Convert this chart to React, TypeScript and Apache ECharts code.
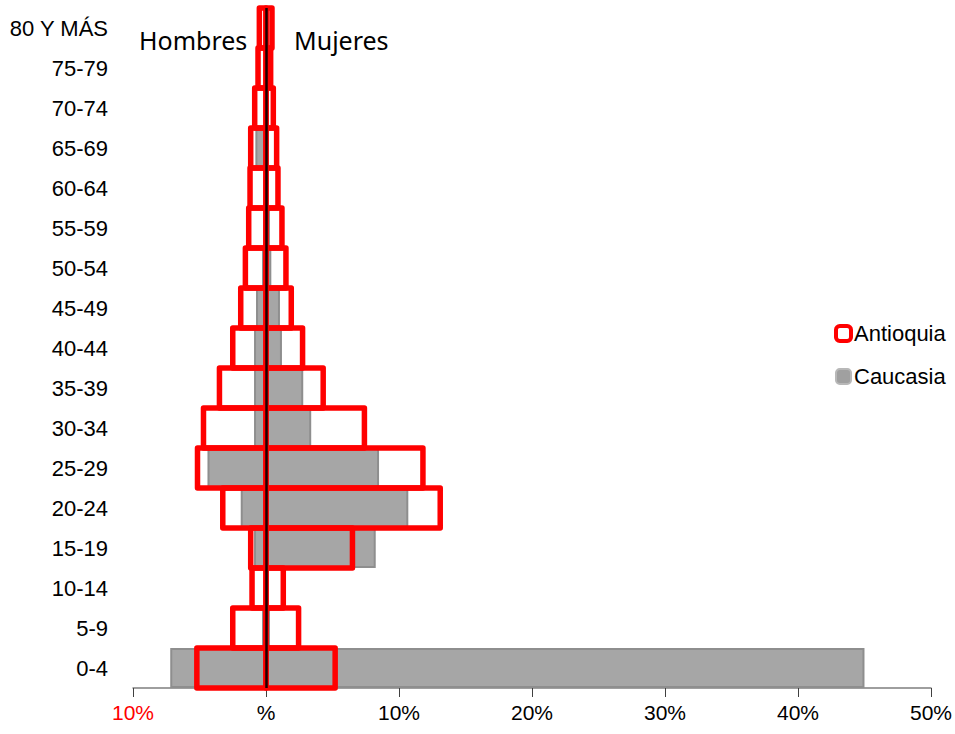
import React, { useEffect, useRef } from "react";
import * as echarts from "echarts";

const categories = ["0-4", "5-9", "10-14", "15-19", "20-24", "25-29", "30-34", "35-39", "40-44", "45-49", "50-54", "55-59", "60-64", "65-69", "70-74", "75-79", "80 Y MÁS"];
const antioquiaHombres = [5.2, 2.5, 1.05, 1.15, 3.25, 5.15, 4.7, 3.5, 2.5, 1.9, 1.55, 1.3, 1.2, 1.15, 0.85, 0.6, 0.5];
const antioquiaMujeres = [5.2, 2.45, 1.3, 6.5, 13.1, 11.8, 7.4, 4.3, 2.75, 1.9, 1.5, 1.2, 0.9, 0.8, 0.55, 0.35, 0.45];
const caucasiaHombres = [7.2, 0.3, 0.1, 0.9, 1.9, 4.4, 0.9, 0.9, 0.9, 0.75, 0.3, 0.2, 0.2, 0.8, 0.15, 0.1, 0.1];
const caucasiaMujeres = [45.0, 0.3, 0.2, 8.25, 10.7, 8.5, 3.4, 2.8, 1.2, 1.05, 0.4, 0.3, 0.15, 0.2, 0.2, 0.1, 0.1];
const xTicks = { min: -10, max: 50, interval: 10 };

export default function App() {
  const ref = useRef<HTMLDivElement>(null);
  useEffect(() => {
    if (!ref.current) return;
    const chart = echarts.init(ref.current, null, { renderer: "svg" });
    const grayStyle = { color: "#a6a6a6", borderColor: "#8e8e8e", borderWidth: 2 };
    const redItem = { color: "rgba(255,255,255,0)", borderColor: "#ff0000", borderWidth: 4 };
    const renderRed = (params: any, api: any) => {
      const v = api.value(0);
      const c = api.value(1);
      const p0 = api.coord([0, c]);
      const p1 = api.coord([v, c]);
      const h = api.size([0, 1])[1];
      return {
        type: "rect",
        shape: { x: Math.min(p0[0], p1[0]), y: p0[1] - h / 2, width: Math.abs(p1[0] - p0[0]), height: h },
        style: { fill: "none", stroke: "#ff0000", lineWidth: 5.5, lineJoin: "round" },
      };
    };
    chart.setOption({
      animation: false,
      grid: { left: 133, right: 24, top: 8, bottom: 46 },
      legend: {
        orient: "vertical",
        left: 829,
        top: 317,
        itemWidth: 15,
        itemHeight: 15,
        itemGap: 20,
        textStyle: { fontFamily: "Liberation Sans", fontSize: 22, color: "#000", lineHeight: 23, padding: [0, 0, 0, -2] },
        data: [
          { name: "Antioquia", itemStyle: { borderWidth: 4, borderColor: "#ff0000", color: "#fff" } },
          { name: "Caucasia", itemStyle: { borderWidth: 2, borderColor: "#b8b8b8", color: "#a0a0a0" } },
        ],
      },
      xAxis: {
        type: "value",
        min: xTicks.min,
        max: xTicks.max,
        interval: xTicks.interval,
        splitLine: { show: false },
        axisLine: { show: true, lineStyle: { color: "#7f7f7f", width: 1.5 } },
        axisTick: { show: true, length: 9, lineStyle: { color: "#404040" } },
        axisLabel: {
          margin: 14,
          fontFamily: "Liberation Sans",
          fontSize: 21,
          color: "#000",
          formatter: (v: number) => (v < 0 ? "{r|" + Math.abs(v) + "%}" : v === 0 ? "%" : v + "%"),
          rich: { r: { color: "#ff0000", fontFamily: "Liberation Sans", fontSize: 21 } },
        },
      },
      yAxis: {
        type: "category",
        data: categories,
        axisLine: { show: false },
        axisTick: { show: false },
        axisLabel: { margin: 25, fontFamily: "Liberation Sans", fontSize: 22, color: "#000" },
      },
      graphic: [
        { type: "text", left: 139, top: 27, style: { text: "Hombres", fontFamily: "Noto Sans", fontSize: 25, fill: "#000" } },
        { type: "text", left: 294, top: 27, style: { text: "Mujeres", fontFamily: "Noto Sans", fontSize: 25, fill: "#000" } },
      ],
      series: [
        { name: "Caucasia", type: "bar", stack: "c", z: 2, barCategoryGap: 0, barGap: "-100%", itemStyle: grayStyle, data: caucasiaHombres.map((v) => -v) },
        { name: "Caucasia", type: "bar", stack: "c", z: 2, barCategoryGap: 0, barGap: "-100%", itemStyle: grayStyle, data: caucasiaMujeres },
        {
          name: "Antioquia", type: "custom", z: 4, renderItem: renderRed, itemStyle: redItem,
          encode: { x: 0, y: 1 },
          data: antioquiaHombres.map((v, i) => [-v, i]),
        },
        {
          name: "Antioquia", type: "custom", z: 4, renderItem: renderRed, itemStyle: redItem,
          encode: { x: 0, y: 1 },
          data: antioquiaMujeres.map((v, i) => [v, i]),
          markLine: {
            silent: true, symbol: "none", label: { show: false },
            lineStyle: { color: "#1a0000", width: 2.5, type: "solid" },
            data: [{ xAxis: 0 }],
          },
        },
      ],
    });
    return () => chart.dispose();
  }, []);
  return <div ref={ref} style={{ position: "absolute", left: 0, top: 0, width: 955, height: 734 }} />;
}
